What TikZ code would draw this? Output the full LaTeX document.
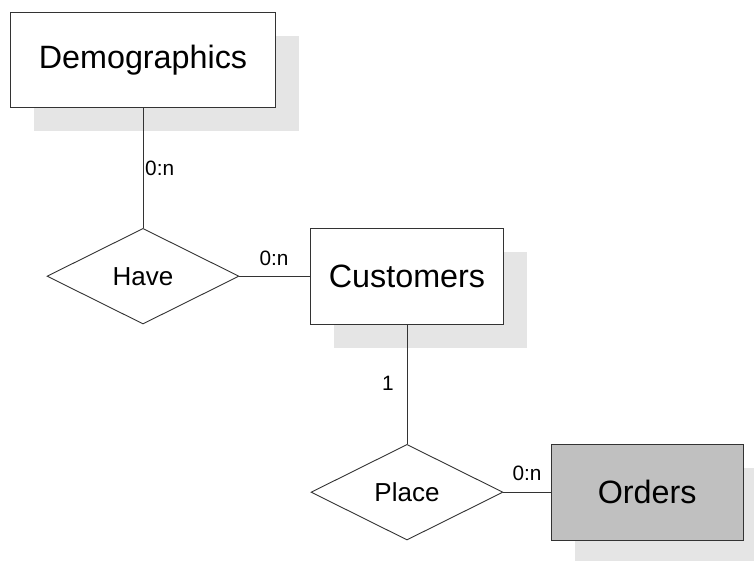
\documentclass[tikz,border=0pt]{standalone}
\usepackage{fontspec}
\setmainfont{Liberation Sans}
\usetikzlibrary{shapes.geometric,shadows}
\definecolor{linec}{RGB}{51,51,51}
\definecolor{shadowc}{RGB}{229,229,229}
\definecolor{orderfill}{RGB}{192,192,192}
\tikzset{
  entity/.style={draw=linec, line width=0.9pt, fill=white, rectangle, inner sep=0pt,
    minimum height=95.7pt, font=\fontsize{32.3}{36}\selectfont,
    general shadow={fill=shadowc, shadow xshift=23.7pt, shadow yshift=-23.5pt}},
  relation/.style={draw=linec, line width=0.9pt, fill=white, diamond, aspect=2.01, inner sep=0pt,
    minimum width=192pt, minimum height=95.6pt, font=\fontsize{26}{30}\selectfont},
  conn/.style={draw=linec, line width=0.9pt},
  card/.style={font=\fontsize{20.8}{24}\selectfont, inner sep=0pt}
}
\begin{document}
\begin{tikzpicture}[x=1pt,y=-1pt]
\useasboundingbox (0,0) rectangle (754,561);
\node[entity, minimum width=265.2pt] (demo) at (143,59.9) {Demographics};
\node[entity, minimum width=192.6pt] (cust) at (407,276.2) {Customers};
\node[entity, minimum width=192.3pt, fill=orderfill] (orders) at (647.2,492.2) {Orders};
\node[relation] (have) at (143,276.2) {Have};
\node[relation] (place) at (407,492.2) {Place};
\draw[conn] (demo.south) -- (have.north);
\draw[conn] (have.east) -- (cust.west);
\draw[conn] (cust.south) -- (place.north);
\draw[conn] (place.east) -- (orders.west);
\node[card, anchor=west] (l1) at (145,168) {0:n};
\node[card] (l2) at (274,258) {0:n};
\node[card] (l3) at (388,383) {1};
\node[card] (l4) at (527,473) {0:n};
\end{tikzpicture}
\end{document}
